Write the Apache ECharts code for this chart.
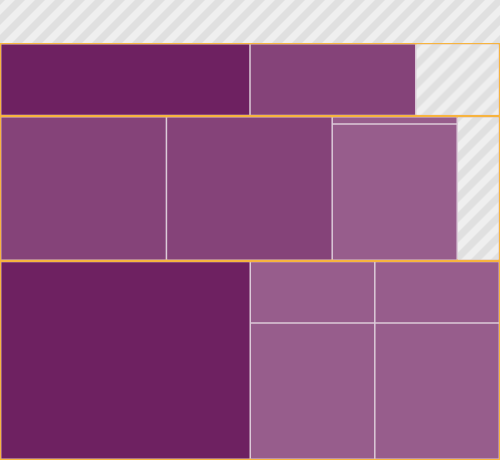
<!DOCTYPE html>
<html>
<head>
<meta charset="utf-8">
<script src="https://cdn.jsdelivr.net/npm/echarts@6/dist/echarts.min.js"></script>
<style>
html,body{margin:0;padding:0;background:#ffffff;}
#chart{width:500px;height:460px;}
</style>
</head>
<body>
<div id="chart"></div>
<script>
// ---- data (relative areas) ----
const bandValue = 215;                       // striped band above the rows
const row1Names = ['R1-A', 'R1-B', 'R1-rest'];
const row1Values = [182, 121, 61];
const row2Names = ['R2-A', 'R2-B', 'R2-C', 'R2-rest'];
const row2Values = [240, 240, null, 61];     // R2-C is the group below
const row2GroupNames = ['R2-C1', 'R2-C2'];
const row2GroupValues = [9, 172];
const row3Names = ['R3-A'];
const row3Values = [497];
const row3LeftNames = ['R3-B1', 'R3-B2'];
const row3LeftValues = [77, 171];
const row3RightNames = ['R3-C1', 'R3-C2'];
const row3RightValues = [77, 171];

// ---- styles ----
const DARK = '#6e2161', MED = '#854379', LIGHT = '#975d8c';
const ORANGE = '#f7b43f', SEP = '#dccbd9';

function stripeCanvas() {
  const c = document.createElement('canvas');
  c.width = 20; c.height = 20;
  const g = c.getContext('2d');
  g.fillStyle = '#efefef'; g.fillRect(0, 0, 20, 20);
  g.strokeStyle = '#e0e0e0'; g.lineWidth = 7.07;
  [-20, 0, 20, 40].forEach(function (k) {
    g.beginPath(); g.moveTo(k + 20, -20); g.lineTo(k - 40, 40); g.stroke();
  });
  return c;
}
const STRIPES = { image: stripeCanvas(), repeat: 'repeat' };

function leaf(name, value, fill) {
  return { name: name, value: value, itemStyle: { color: fill, borderWidth: 0, gapWidth: 0, borderColor: SEP } };
}
function group(name, children) {
  return { name: name, children: children, itemStyle: { borderWidth: 0, gapWidth: 1.5, borderColor: SEP } };
}
function rowBox(name, children) {
  return { name: name, children: [group(name + ' cells', children)],
           itemStyle: { borderWidth: 1.4, gapWidth: 0, borderColor: ORANGE } };
}

const row1 = rowBox('Row 1', [
  leaf(row1Names[0], row1Values[0], DARK),
  leaf(row1Names[1], row1Values[1], MED),
  leaf(row1Names[2], row1Values[2], STRIPES)
]);
const row2 = rowBox('Row 2', [
  leaf(row2Names[0], row2Values[0], MED),
  leaf(row2Names[1], row2Values[1], MED),
  group(row2Names[2], [
    leaf(row2GroupNames[0], row2GroupValues[0], LIGHT),
    leaf(row2GroupNames[1], row2GroupValues[1], LIGHT)
  ]),
  leaf(row2Names[3], row2Values[3], STRIPES)
]);
const row3 = rowBox('Row 3', [
  leaf(row3Names[0], row3Values[0], DARK),
  group('R3-group', [
    group('R3-B', [
      leaf(row3LeftNames[0], row3LeftValues[0], LIGHT),
      leaf(row3LeftNames[1], row3LeftValues[1], LIGHT)
    ]),
    group('R3-C', [
      leaf(row3RightNames[0], row3RightValues[0], LIGHT),
      leaf(row3RightNames[1], row3RightValues[1], LIGHT)
    ])
  ])
]);

function total(arr) { return arr.reduce(function (s, v) { return s + (v || 0); }, 0); }
const visibleTotal = bandValue + total(row1Values) + total(row2Values) + total(row2GroupValues)
  + total(row3Values) + total(row3LeftValues) + total(row3RightValues);

// layout helper: an off-canvas spacer below the chart keeps the root taller than wide,
// so the rows are sliced horizontally from the top
const spacer = { name: 'spacer', value: visibleTotal,
  itemStyle: { color: 'rgba(0,0,0,0)', borderWidth: 0, borderColor: 'rgba(0,0,0,0)' } };

const chart = echarts.init(document.getElementById('chart'), null, { renderer: 'canvas' });
chart.setOption({
  animation: false,
  tooltip: { show: false },
  series: [{
    type: 'treemap',
    left: 0, top: 0, width: 500, height: 920,
    squareRatio: 0.01,
    sort: false,
    roam: false,
    nodeClick: false,
    breadcrumb: { show: false },
    label: { show: false },
    upperLabel: { show: false },
    itemStyle: { borderWidth: 0, gapWidth: 0, borderColor: SEP },
    data: [
      leaf('Band', bandValue, STRIPES),
      row1, row2, row3,
      spacer
    ]
  }]
});
</script>
</body>
</html>
